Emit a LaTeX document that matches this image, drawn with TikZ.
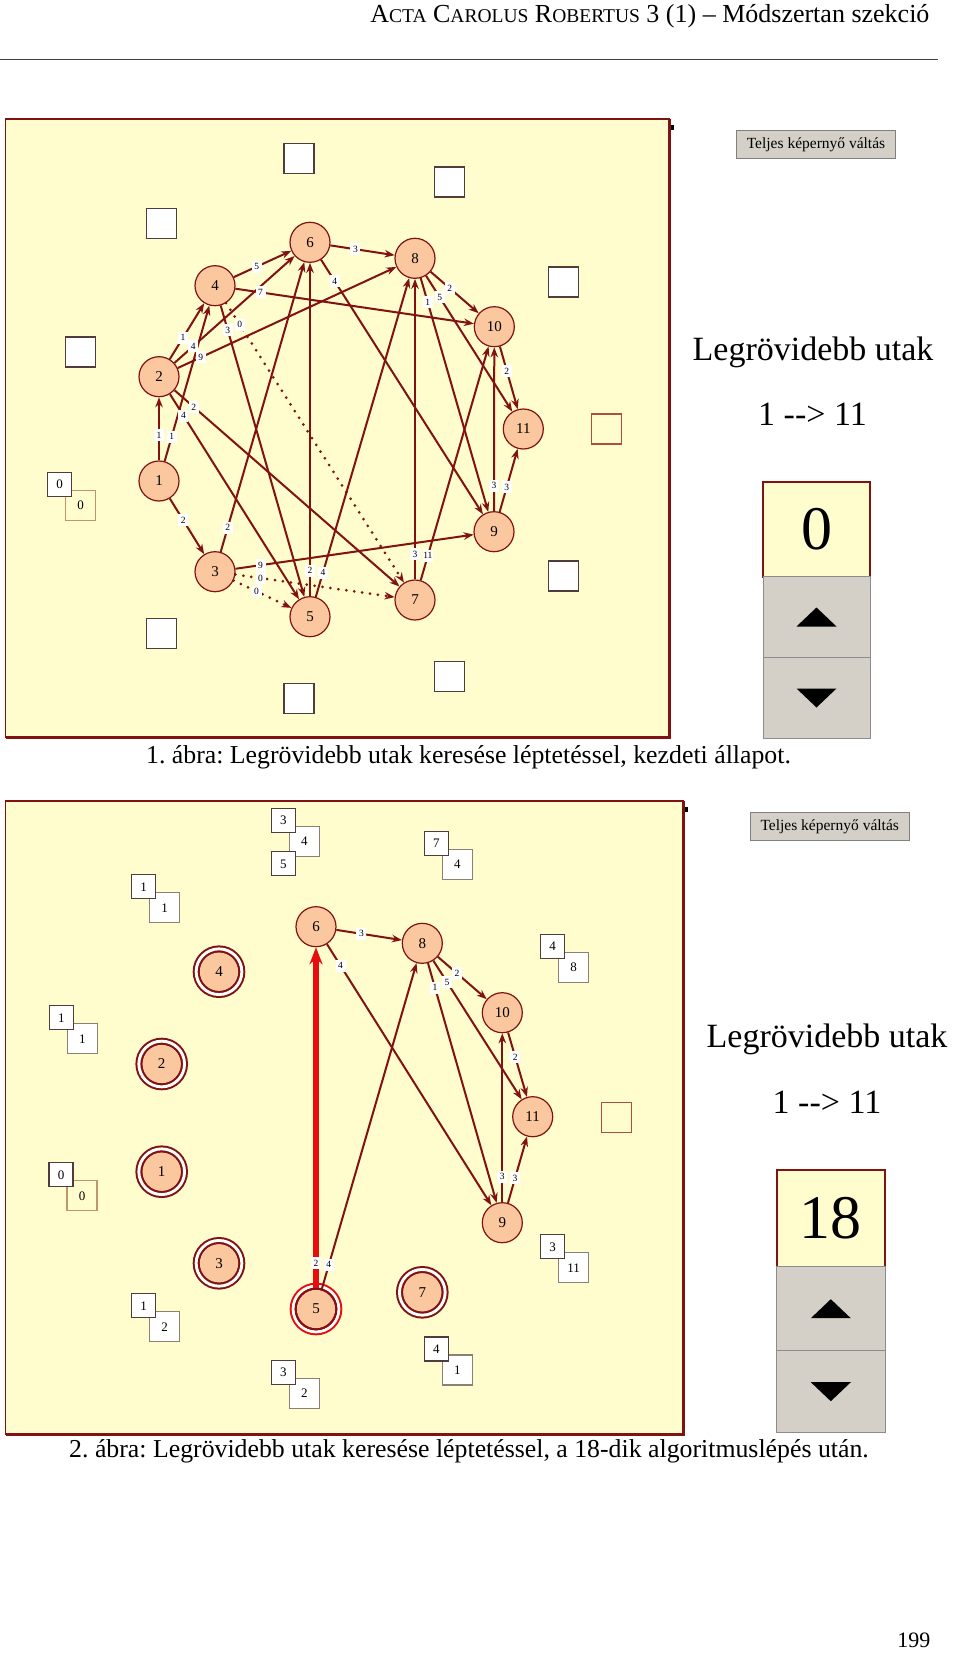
\documentclass[tikz,border=0pt]{standalone}
\usepackage{fontspec}
\setmainfont{Liberation Serif}
\usetikzlibrary{arrows.meta, positioning, calc}
\frenchspacing

\definecolor{panelyel}{RGB}{255,252,206}
\definecolor{nodepeach}{RGB}{250,199,158}
\definecolor{linebrown}{RGB}{128,18,18}
\definecolor{pathred}{RGB}{232,12,12}
\definecolor{btngray}{RGB}{212,208,200}
\definecolor{boxdark}{RGB}{80,60,60}
\definecolor{boxgray}{RGB}{140,128,118}
\definecolor{boxtan}{RGB}{190,150,110}
\definecolor{boxrust}{RGB}{170,80,60}

% fake small caps for the running head
\newcommand{\fsc}[2]{#1{\fontsize{19.5}{20}\selectfont #2}}
% weighted edge: label sits 46pt from the source vertex
\newcommand{\edgew}[4][arrow]{%
  \draw[#1] (#2) -- (#3);
  \node[wlbl] at ($(#2)!46pt!(#3)$) {#4};}

\begin{document}
\begin{tikzpicture}[x=1pt, y=-1pt,
    panel/.style={fill=panelyel, draw=linebrown, line width=1.5pt},
    paneledge/.style={draw=linebrown, line width=3pt},
    vtx/.style={circle, draw=linebrown, fill=nodepeach, line width=1.2pt, minimum size=40pt, inner sep=0pt, font=\fontsize{15}{15}\selectfont},
    ring/.style={draw=linebrown, line width=2pt, double=white, double distance=2.9pt},
    arrow/.style={draw=linebrown, line width=2pt, -{Stealth[length=10pt, width=7.5pt]}},
    zero/.style={arrow, line width=3pt, line cap=round, dash pattern=on 0pt off 8pt},
    spt/.style={draw=pathred, line width=5.5pt, -{Stealth[length=17pt, width=13pt]}},
    wlbl/.style={fill=white, inner sep=0pt, minimum width=10pt, minimum height=12pt, font=\fontsize{9.5}{9.5}\selectfont},
    pbox/.style={rectangle, draw=boxdark, fill=white, line width=1.3pt, minimum size=24pt, inner sep=0pt, outer sep=0pt, font=\fontsize{13}{13}\selectfont},
    dbox/.style={pbox, draw=boxgray, minimum size=30pt},
    ebox/.style={dbox, draw=boxdark},
    tbox/.style={dbox, draw=boxtan, fill=panelyel},
    nbox/.style={dbox, draw=boxrust, fill=none},
    btn/.style={rectangle, fill=btngray, draw=black!50, line width=1pt, minimum width=159pt, minimum height=28pt, inner sep=0pt, font=\fontsize{15.5}{16}\selectfont},
    big/.style={font=\fontsize{34}{40}\selectfont},
    counter/.style={rectangle, fill=panelyel, draw=linebrown, line width=2pt, minimum width=107pt, minimum height=95pt, inner sep=0pt, outer sep=0pt, font=\fontsize{62}{62}\selectfont},
    spin/.style={rectangle, fill=btngray, draw=black!45, line width=1pt, minimum width=107pt, minimum height=81pt, inner sep=0pt, outer sep=0pt},
    caption/.style={font=\fontsize{25.8}{30}\selectfont},
]
    \useasboundingbox (0,0) rectangle (960,1653);
    \fill[white] (0,0) rectangle (960,1653);

    % running head
    \node[anchor=base east, font=\fontsize{26}{28}\selectfont] (head) at (933,23)
        {\fsc{A}{CTA} \fsc{C}{AROLUS} \fsc{R}{OBERTUS} 3 (1) -- Módszertan szekció};
    \draw[black!75, line width=1pt] (0,60) -- (938,60);

    % ---------- figure 1 ----------
    \draw[panel] (5.5,119) rectangle (669,737.5);
    \draw[paneledge] (669,119) -- (669,737.5) -- (5.5,737.5);
    \fill (671,125) rectangle (673.5,130);

    \node[ebox] (e6) at (299,158.7) {};
    \node[ebox] (e8) at (449.3,182) {};
    \node[ebox] (e10) at (563.7,282) {};
    \node[nbox] (e11) at (606.7,429) {};
    \node[ebox] (e9) at (563.7,576) {};
    \node[ebox] (e7) at (449.3,676.3) {};
    \node[ebox] (e5) at (299,698.8) {};
    \node[ebox] (e3) at (161.7,633.7) {};
    \node[ebox] (e2) at (80.7,352) {};
    \node[ebox] (e4) at (161.7,223.7) {};
    \node[tbox] (d1) at (80.7,505.7) {0};
    \node[pbox, above left=-6pt and -6pt of d1] (p1) {0};

    \node[vtx] (a1) at (159,481) {1};
    \node[vtx] (a2) at (159,376.7) {2};
    \node[vtx] (a3) at (215,571.7) {3};
    \node[vtx] (a4) at (215,285.7) {4};
    \node[vtx] (a5) at (310,616.7) {5};
    \node[vtx] (a6) at (310,242.3) {6};
    \node[vtx] (a7) at (415,600) {7};
    \node[vtx] (a8) at (415,258.3) {8};
    \node[vtx] (a9) at (494,531.7) {9};
    \node[vtx] (a10) at (494.3,326.7) {10};
    \node[vtx] (a11) at (523.3,429) {11};

    \edgew{a1}{a2}{1}
    \edgew{a1}{a4}{1}
    \edgew{a1}{a3}{2}
    \edgew{a2}{a4}{1}
    \edgew{a2}{a6}{4}
    \edgew{a2}{a8}{9}
    \edgew{a2}{a7}{2}
    \edgew{a2}{a5}{4}
    \edgew{a3}{a6}{2}
    \edgew{a3}{a9}{9}
    \edgew[zero]{a3}{a5}{0}
    \edgew[zero]{a3}{a7}{0}
    \edgew{a4}{a6}{5}
    \edgew{a4}{a10}{7}
    \edgew{a4}{a5}{3}
    \edgew[zero]{a4}{a7}{0}
    \edgew{a5}{a6}{2}
    \edgew{a5}{a8}{4}
    \edgew{a6}{a8}{3}
    \edgew{a6}{a9}{4}
    \edgew{a7}{a8}{3}
    \edgew{a7}{a10}{11}
    \edgew{a8}{a10}{2}
    \edgew{a8}{a9}{1}
    \edgew{a8}{a11}{5}
    \edgew{a9}{a10}{3}
    \edgew{a9}{a11}{3}
    \edgew{a10}{a11}{2}

    \node[btn] (full1) at (816,145) {Teljes képernyő váltás};
    \node[big] (ttl1) at (813,352) {Legrövidebb utak};
    \node[big] (rt1) at (812.5,414) {1 -{}-> 11};
    \node[counter] (cnt1) at (816.5,529) {0};
    \node[spin, below=0pt of cnt1] (up1) {};
    \node[spin, below=0pt of up1] (down1) {};
    \fill (up1.center) ++(-20,9.5) -- ++(40,0) -- ++(-20,-19) -- cycle;
    \fill (down1.center) ++(-20,-9.5) -- ++(40,0) -- ++(-20,19) -- cycle;

    \node[caption] (cap1) at (468.5,757) {1. ábra: Legrövidebb utak keresése léptetéssel, kezdeti állapot.};

    % ---------- figure 2 ----------
    \draw[panel] (5.5,801) rectangle (683,1434);
    \draw[paneledge] (683,801) -- (683,1434) -- (5.5,1434);
    \fill (685,807) rectangle (687.5,812);

    \node[dbox] (d6) at (304.3,841.3) {4};
    \node[pbox, above left=-6pt and -6pt of d6] (p6) {3};
    \node[pbox, below=19.5pt of p6] (q6) {5};
    \node[dbox] (d8) at (457.3,864.7) {4};
    \node[pbox, above left=-6pt and -6pt of d8] (p8) {7};
    \node[dbox] (d10) at (573.7,967.2) {8};
    \node[pbox, above left=-6pt and -6pt of d10] (p10) {4};
    \node[nbox] (d11) at (616.7,1117.5) {};
    \node[dbox] (d9) at (573.7,1267.8) {11};
    \node[pbox, above left=-6pt and -6pt of d9] (p9) {3};
    \node[dbox] (d7) at (457.3,1370) {1};
    \node[pbox, above left=-6pt and -6pt of d7] (p7) {4};
    \node[dbox] (d5) at (304.3,1393.3) {2};
    \node[pbox, above left=-6pt and -6pt of d5] (p5) {3};
    \node[dbox] (d3) at (164.7,1326.7) {2};
    \node[pbox, above left=-6pt and -6pt of d3] (p3) {1};
    \node[tbox] (dd1) at (82,1195.8) {0};
    \node[pbox, above left=-6pt and -6pt of dd1] (pp1) {0};
    \node[dbox] (d2) at (82.3,1038.7) {1};
    \node[pbox, above left=-6pt and -6pt of d2] (p2) {1};
    \node[dbox] (d4) at (164.7,907.8) {1};
    \node[pbox, above left=-6pt and -6pt of d4] (p4) {1};

    \node[vtx] (b1) at (161.7,1171.7) {1};
    \node[vtx] (b2) at (161.7,1064) {2};
    \node[vtx] (b3) at (219,1263.3) {3};
    \node[vtx] (b4) at (219,971.7) {4};
    \node[vtx] (b5) at (316,1309) {5};
    \node[vtx] (b6) at (316,926.7) {6};
    \node[vtx] (b7) at (422.3,1292.3) {7};
    \node[vtx] (b8) at (422.3,943.3) {8};
    \node[vtx] (b9) at (502.3,1222.7) {9};
    \node[vtx] (b10) at (502.3,1012.7) {10};
    \node[vtx] (b11) at (532.7,1116.7) {11};

    % finished vertices
    \draw[ring] (b1) circle[radius=22.85pt];
    \draw[ring] (b2) circle[radius=22.85pt];
    \draw[ring] (b3) circle[radius=22.85pt];
    \draw[ring] (b4) circle[radius=22.85pt];
    \draw[ring] (b7) circle[radius=22.85pt];
    \draw[ring, draw=pathred] (b5) circle[radius=22.85pt];
    \draw[linebrown, line width=2pt] (b5) circle[radius=20.4pt];

    \edgew[spt]{b5}{b6}{2}
    \edgew{b5}{b8}{4}
    \edgew{b6}{b8}{3}
    \edgew{b6}{b9}{4}
    \edgew{b8}{b10}{2}
    \edgew{b8}{b9}{1}
    \edgew{b8}{b11}{5}
    \edgew{b9}{b10}{3}
    \edgew{b9}{b11}{3}
    \edgew{b10}{b11}{2}

    \node[btn] (full2) at (829.7,826.7) {Teljes képernyő váltás};
    \node[big] (ttl2) at (827,1039) {Legrövidebb utak};
    \node[big] (rt2) at (827,1102) {1 -{}-> 11};
    \node[counter, minimum width=108.4pt, minimum height=97pt] (cnt2) at (830.8,1218.2) {18};
    \node[spin, minimum width=108.4pt, minimum height=84pt, below=0pt of cnt2] (up2) {};
    \node[spin, minimum width=108.4pt, minimum height=82pt, below=0pt of up2] (down2) {};
    \fill (up2.center) ++(-20,9.5) -- ++(40,0) -- ++(-20,-19) -- cycle;
    \fill (down2.center) ++(-20,-9.5) -- ++(40,0) -- ++(-20,19) -- cycle;

    \node[caption] (cap2) at (469,1451) {2. ábra: Legrövidebb utak keresése léptetéssel, a 18-dik algoritmuslépés után.};

    \node[anchor=base east, font=\fontsize{22}{24}\selectfont] (page) at (934,1647) {199};
\end{tikzpicture}
\end{document}
